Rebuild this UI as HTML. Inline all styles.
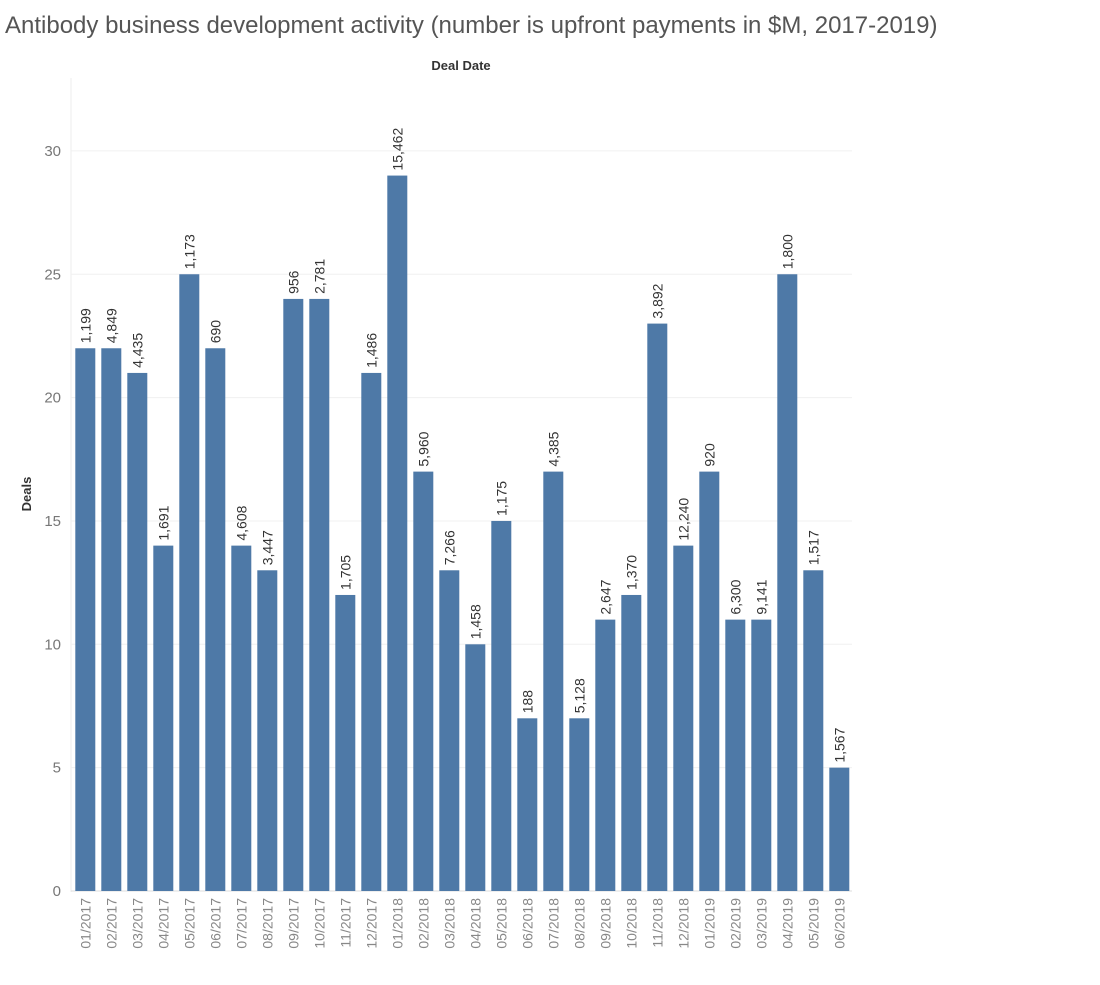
<!DOCTYPE html>
<html><head><meta charset="utf-8"><style>
body{margin:0;background:#fff;font-family:"Liberation Sans",sans-serif;}
</style></head><body>
<svg width="1100" height="980" xmlns="http://www.w3.org/2000/svg" id="chart">
<text x="5" y="33" font-size="24" fill="#555">Antibody business development activity (number is upfront payments in $M, 2017-2019)</text>
<text x="461" y="70" font-size="13" font-weight="bold" fill="#333" text-anchor="middle">Deal Date</text>
<text x="0" y="0" font-size="13" font-weight="bold" fill="#333" text-anchor="middle" transform="translate(31,494) rotate(-90)">Deals</text>
<line x1="71" y1="78" x2="71" y2="892" stroke="#eee"/>
<g id="grid"></g><g id="bars"></g><g id="labels"></g><g id="xt"></g>
</svg>
<script>
const categories=["01/2017","02/2017","03/2017","04/2017","05/2017","06/2017","07/2017","08/2017","09/2017","10/2017","11/2017","12/2017","01/2018","02/2018","03/2018","04/2018","05/2018","06/2018","07/2018","08/2018","09/2018","10/2018","11/2018","12/2018","01/2019","02/2019","03/2019","04/2019","05/2019","06/2019"];
const deals=[22,22,21,14,25,22,14,13,24,24,12,21,29,17,13,10,15,7,17,7,11,12,23,14,17,11,11,25,13,5];
const upfront=["1,199","4,849","4,435","1,691","1,173","690","4,608","3,447","956","2,781","1,705","1,486","15,462","5,960","7,266","1,458","1,175","188","4,385","5,128","2,647","1,370","3,892","12,240","920","6,300","9,141","1,800","1,517","1,567"];
const yTicks=[0,5,10,15,20,25,30];
const NS="http://www.w3.org/2000/svg";
const y0=891,unit=24.67,x0=72.3,band=26,bw=20;
const yS=v=>y0-v*unit;
const xS=i=>x0+i*band;
function mk(tag,attrs,parent,text){const e=document.createElementNS(NS,tag);for(const k in attrs)e.setAttribute(k,attrs[k]);if(text!==undefined)e.textContent=text;document.getElementById(parent).appendChild(e);return e;}
yTicks.forEach(t=>{
 const l=mk('line',{x1:71,x2:852,y1:yS(t),y2:yS(t),stroke:t===0?'#ddd':'#f0f0f0'},'grid');
 
 
 const tx=mk('text',{x:61,y:yS(t)+5,'font-size':15,fill:'#777','text-anchor':'end'},'grid',t);
 
 
});
categories.forEach((c,i)=>{
 const cx=xS(i)+band/2;
 const r=mk('rect',{x:cx-bw/2,y:yS(deals[i]),width:bw,height:deals[i]*unit,fill:'#4e79a7'},'bars');
 
 
 const lb=mk('text',{x:0,y:0,'font-size':14,fill:'#333',transform:`translate(${cx+5},${yS(deals[i])-5}) rotate(-90)`},'labels',upfront[i]);
 
 
 const xt=mk('text',{x:0,y:0,'font-size':14,fill:'#888','text-anchor':'end',transform:`translate(${cx+5},${898}) rotate(-90)`},'xt',c);
 
 
});
</script>
</body></html>
